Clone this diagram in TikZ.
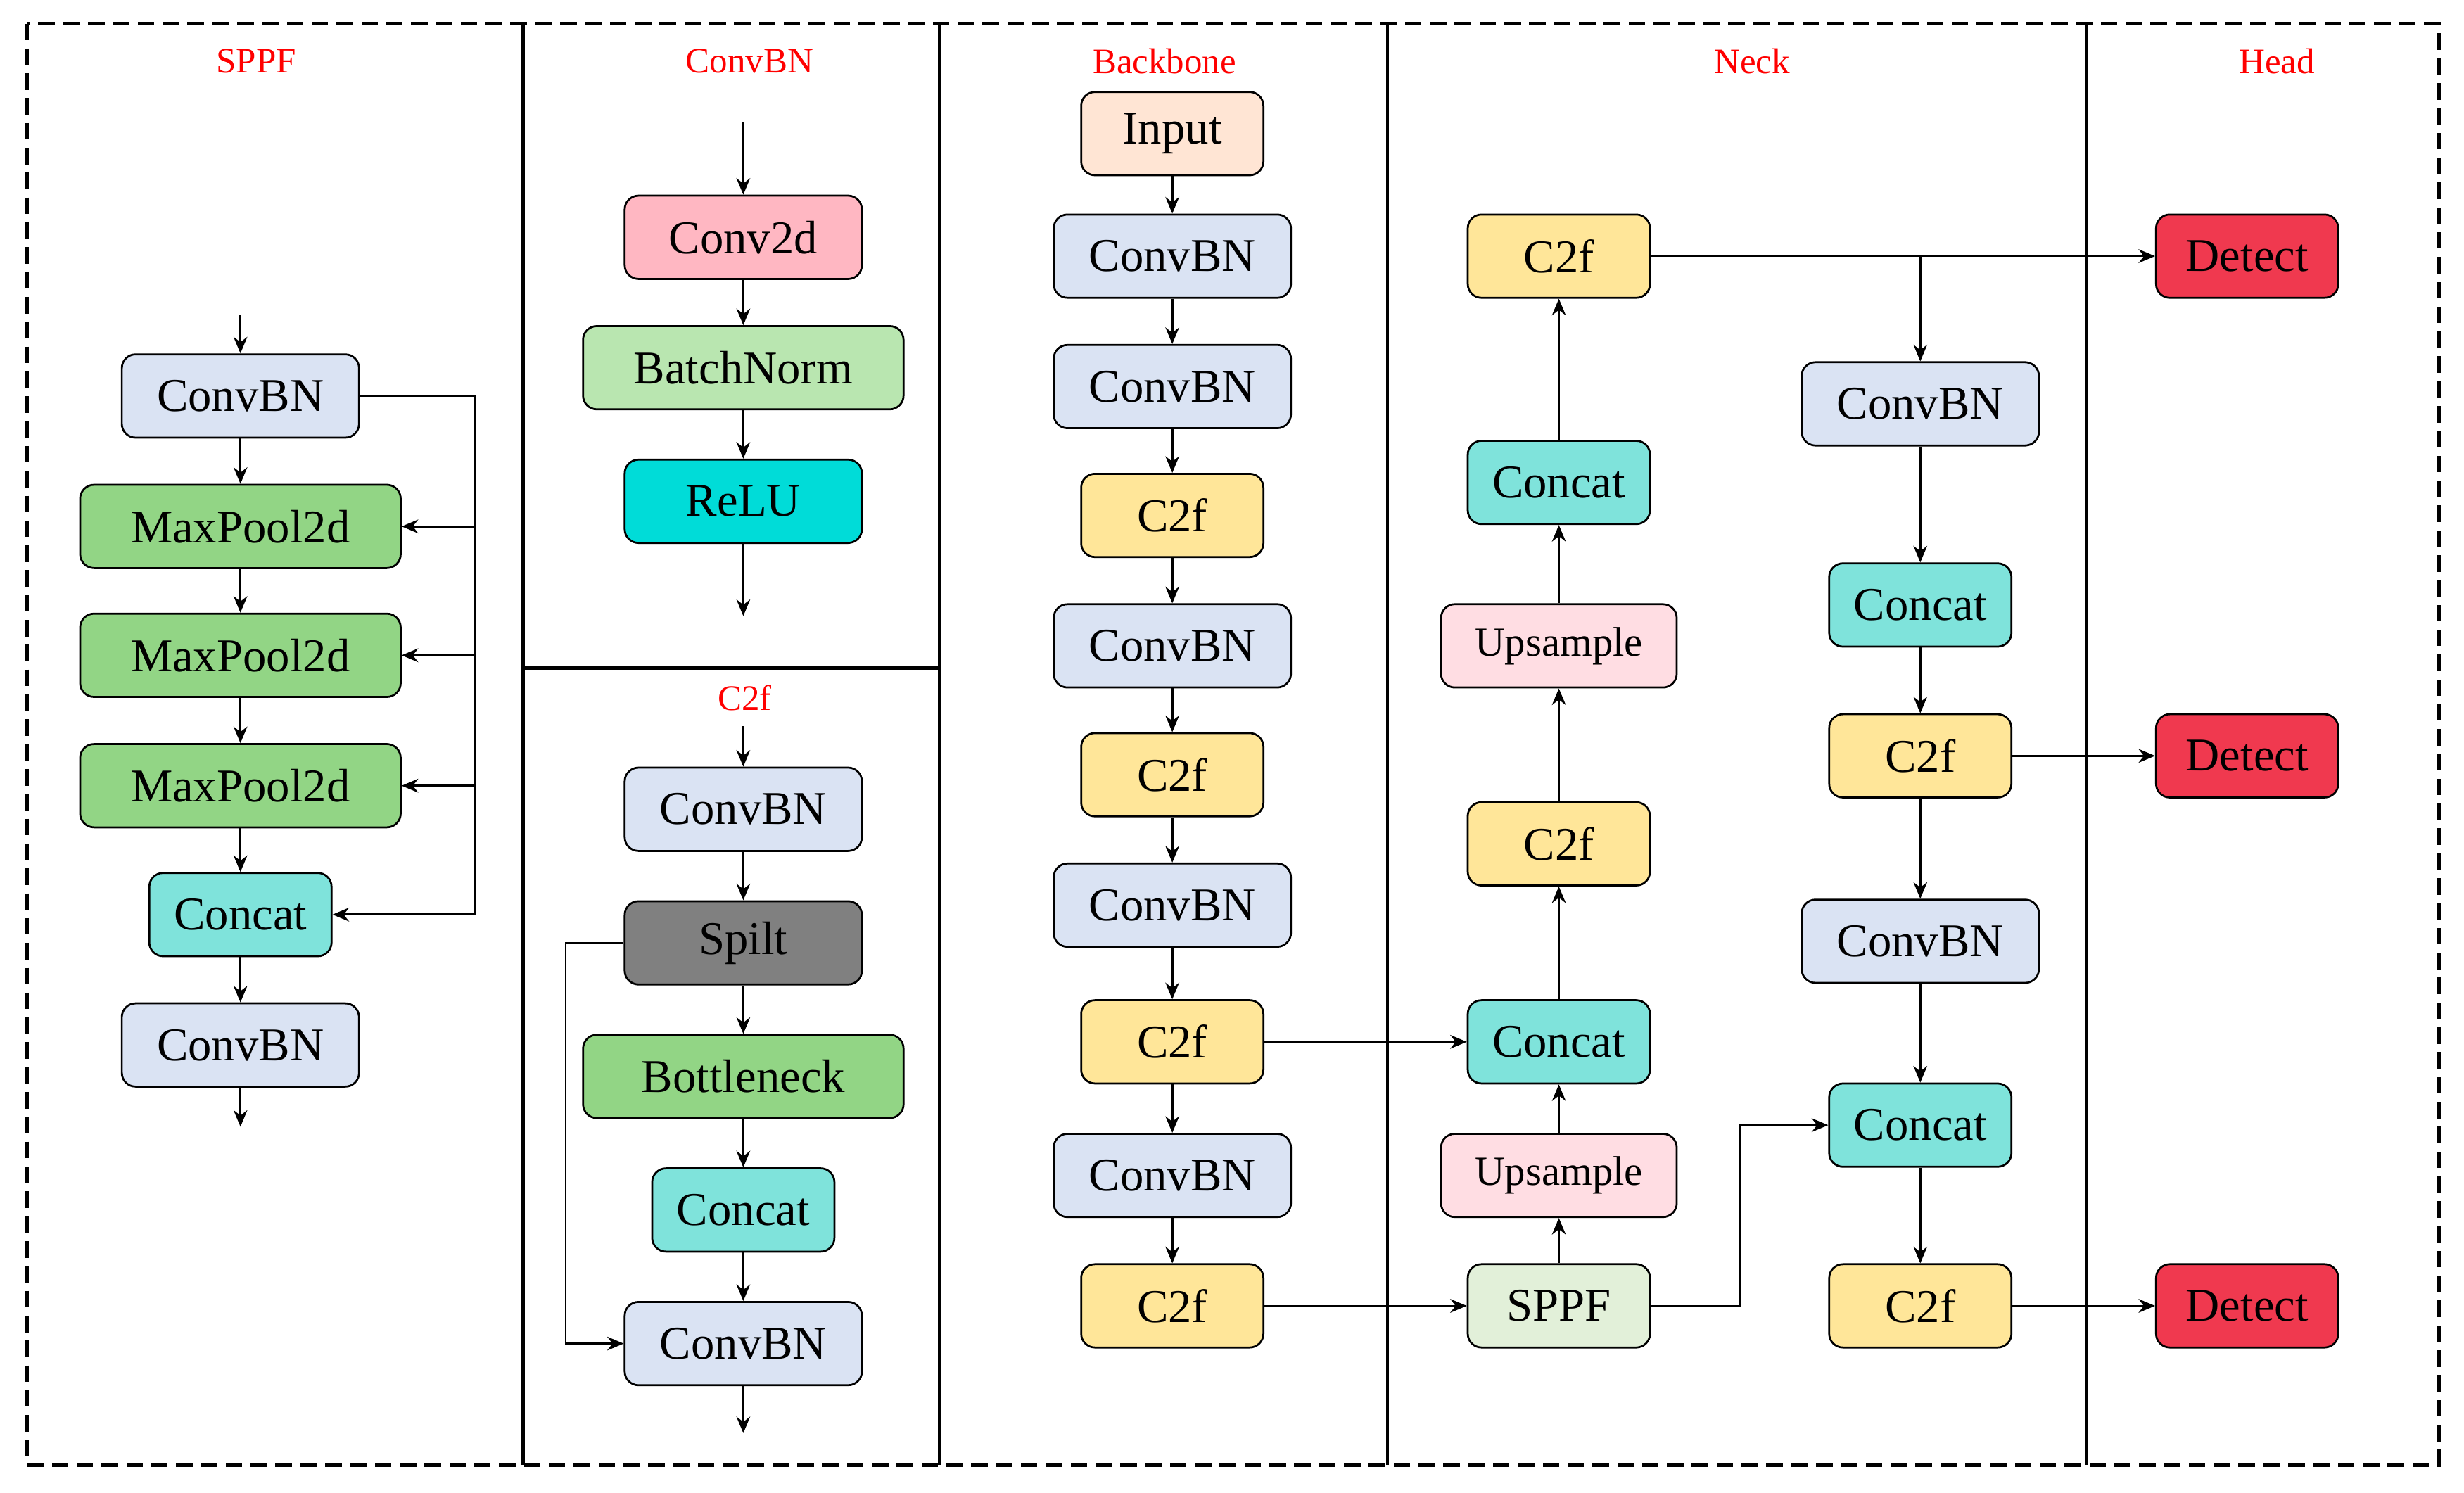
\documentclass[tikz,border=0pt]{standalone}
\usepackage{fontspec}
\setmainfont{Liberation Serif}
\usetikzlibrary{arrows.meta}
\definecolor{cbn}{HTML}{DAE3F3}
\definecolor{ctf}{HTML}{FFE699}
\definecolor{ccat}{HTML}{7FE3DB}
\definecolor{cmp}{HTML}{92D585}
\definecolor{cbatch}{HTML}{B9E6B0}
\definecolor{cconv}{HTML}{FFB7C2}
\definecolor{cin}{HTML}{FFE5D4}
\definecolor{cup}{HTML}{FFDDE3}
\definecolor{csppf}{HTML}{E2F0D9}
\definecolor{cdet}{HTML}{F0394F}
\definecolor{crelu}{HTML}{00DCD8}
\definecolor{cspl}{HTML}{808080}
\begin{document}
\begin{tikzpicture}[x=0.02cm,y=-0.02cm,
  box/.style={draw=black,line width=0.7pt,rounded corners=5pt,minimum height=1.06cm,inner sep=0pt,font=\fontsize{17}{20}\selectfont},
  w151/.style={box,minimum width=3.02cm},
  w204/.style={box,minimum width=4.08cm},
  w116/.style={box,minimum width=2.32cm},
  w150/.style={box,minimum width=3.0cm},
  arr/.style={-{Stealth[length=6pt,width=5pt]},line width=0.7pt},
  ln/.style={line width=0.7pt},
  ttl/.style={text=red,font=\fontsize{13}{15}\selectfont},
  sep/.style={line width=1.2pt}]
\useasboundingbox (0,0) rectangle (1568,950);
\draw[line width=1.5pt,dash pattern=on 6pt off 3pt] (17,15) rectangle (1552,932);
\draw[sep] (333,15) -- (333,932);
\draw[sep] (598,15) -- (598,932);
\draw[sep] (883,15) -- (883,932);
\draw[sep] (1328,15) -- (1328,932);
\draw[sep] (333,425) -- (598,425);
\node[ttl] (t1) at (163,39) {SPPF};
\node[ttl] (t2) at (477,39) {ConvBN};
\node[ttl] (t3) at (741,39) {Backbone};
\node[ttl] (t4) at (1115,39) {Neck};
\node[ttl] (t5) at (1449,39) {Head};
\node[ttl] (t6) at (474,444) {C2f};
% SPPF
\coordinate (sin) at (153,200);
\node[w151,fill=cbn] (s1) at (153,252) {ConvBN};
\node[w204,fill=cmp] (s2) at (153,335) {MaxPool2d};
\node[w204,fill=cmp] (s3) at (153,417) {MaxPool2d};
\node[w204,fill=cmp] (s4) at (153,500) {MaxPool2d};
\node[w116,fill=ccat] (s5) at (153,582) {Concat};
\node[w151,fill=cbn] (s6) at (153,665) {ConvBN};
\coordinate (sout) at (153,717);
\draw[arr] (sin) -- (s1);
\draw[arr] (s1) -- (s2);
\draw[arr] (s2) -- (s3);
\draw[arr] (s3) -- (s4);
\draw[arr] (s4) -- (s5);
\draw[arr] (s5) -- (s6);
\draw[arr] (s6) -- (sout);
\coordinate (bus) at (302,252);
\coordinate (busb) at (302,582);
\draw[ln] (s1.east) -- (bus) -- (busb);
\draw[arr] (s2.east -| bus) -- (s2.east);
\draw[arr] (s3.east -| bus) -- (s3.east);
\draw[arr] (s4.east -| bus) -- (s4.east);
\draw[arr] (busb) -- (s5.east);
% ConvBN
\coordinate (cin) at (473,78);
\node[w151,fill=cconv] (c1) at (473,151) {Conv2d};
\node[w204,fill=cbatch] (c2) at (473,234) {BatchNorm};
\node[w151,fill=crelu] (c3) at (473,319) {ReLU};
\coordinate (cout) at (473,392);
\draw[arr] (cin) -- (c1);
\draw[arr] (c1) -- (c2);
\draw[arr] (c2) -- (c3);
\draw[arr] (c3) -- (cout);
% C2f
\coordinate (fin) at (473,462);
\node[w151,fill=cbn] (f1) at (473,515) {ConvBN};
\node[w151,fill=cspl] (f2) at (473,600) {Spilt};
\node[w204,fill=cmp] (f3) at (473,685) {Bottleneck};
\node[w116,fill=ccat] (f4) at (473,770) {Concat};
\node[w151,fill=cbn] (f5) at (473,855) {ConvBN};
\coordinate (fout) at (473,912);
\coordinate (fl) at (360,600);
\draw[arr] (fin) -- (f1);
\draw[arr] (f1) -- (f2);
\draw[arr] (f2) -- (f3);
\draw[arr] (f3) -- (f4);
\draw[arr] (f4) -- (f5);
\draw[arr] (f5) -- (fout);
\draw[arr] (f2.west) -- (fl) |- (f5.west);
% Backbone
\node[w116,fill=cin] (b0) at (746,85) {Input};
\node[w151,fill=cbn] (b1) at (746,163) {ConvBN};
\node[w151,fill=cbn] (b2) at (746,246) {ConvBN};
\node[w116,fill=ctf] (b3) at (746,328) {C2f};
\node[w151,fill=cbn] (b4) at (746,411) {ConvBN};
\node[w116,fill=ctf] (b5) at (746,493) {C2f};
\node[w151,fill=cbn] (b6) at (746,576) {ConvBN};
\node[w116,fill=ctf] (b7) at (746,663) {C2f};
\node[w151,fill=cbn] (b8) at (746,748) {ConvBN};
\node[w116,fill=ctf] (b9) at (746,831) {C2f};
\foreach \a/\b in {b0/b1,b1/b2,b2/b3,b3/b4,b4/b5,b5/b6,b6/b7,b7/b8,b8/b9}
  \draw[arr] (\a) -- (\b);
% Neck left
\node[w116,fill=ctf] (n1) at (992,163) {C2f};
\node[w116,fill=ccat] (n2) at (992,307) {Concat};
\node[w150,fill=cup,font=\fontsize{15}{18}\selectfont] (n3) at (992,411) {Upsample};
\node[w116,fill=ctf] (n4) at (992,537) {C2f};
\node[w116,fill=ccat] (n5) at (992,663) {Concat};
\node[w150,fill=cup,font=\fontsize{15}{18}\selectfont] (n6) at (992,748) {Upsample};
\node[w116,fill=csppf] (n7) at (992,831) {SPPF};
\foreach \a/\b in {n7/n6,n6/n5,n5/n4,n4/n3,n3/n2,n2/n1}
  \draw[arr] (\a) -- (\b);
\draw[arr] (b7) -- (n5);
\draw[arr] (b9) -- (n7);
% Neck right
\node[w151,fill=cbn] (r1) at (1222,257) {ConvBN};
\node[w116,fill=ccat] (r2) at (1222,385) {Concat};
\node[w116,fill=ctf] (r3) at (1222,481) {C2f};
\node[w151,fill=cbn] (r4) at (1222,599) {ConvBN};
\node[w116,fill=ccat] (r5) at (1222,716) {Concat};
\node[w116,fill=ctf] (r6) at (1222,831) {C2f};
\foreach \a/\b in {r1/r2,r2/r3,r3/r4,r4/r5,r5/r6}
  \draw[arr] (\a) -- (\b);
% Head
\node[w116,fill=cdet] (d1) at (1430,163) {Detect};
\node[w116,fill=cdet] (d2) at (1430,481) {Detect};
\node[w116,fill=cdet] (d3) at (1430,831) {Detect};
\draw[arr] (n1) -- (d1);
\coordinate (br) at (1222,163);
\draw[arr] (br) -- (r1);
\draw[arr] (r3) -- (d2);
\draw[arr] (r6) -- (d3);
\coordinate (sp) at (1107,831);
\draw[arr] (n7.east) -- (sp) |- (r5.west);
\end{tikzpicture}
\end{document}
